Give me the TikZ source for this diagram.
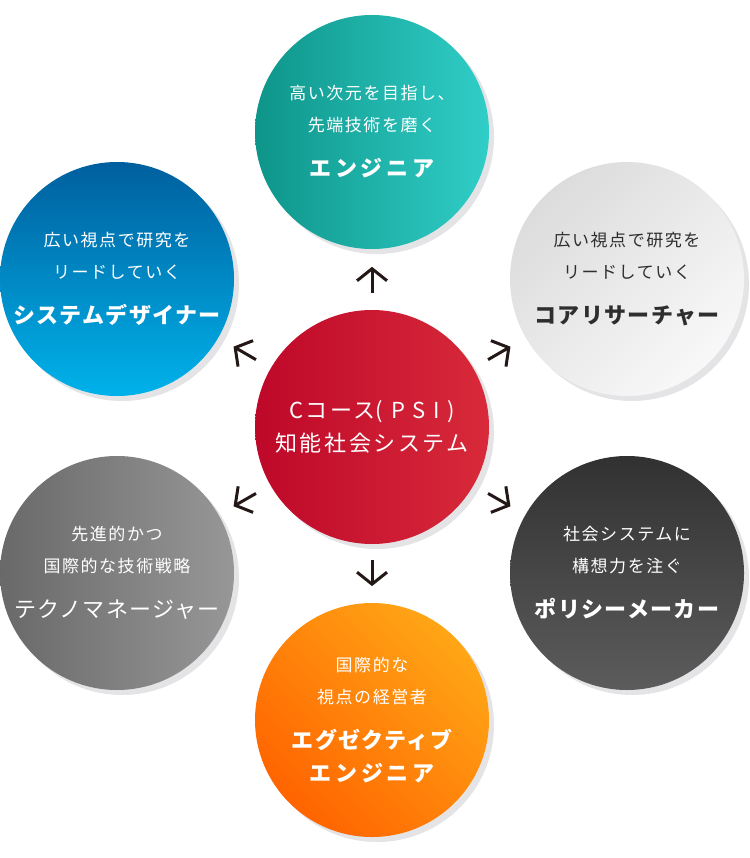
\documentclass[tikz,border=0pt]{standalone}
\usepackage{fontspec}
\setmainfont{Noto Sans CJK JP}
\newfontfamily\leadfont{Noto Sans CJK JP}[LetterSpace=9]
\newfontfamily\rolefont{Noto Sans CJK JP}[LetterSpace=6]
\newfontfamily\corefont{Noto Sans CJK JP}[LetterSpace=12]
\usetikzlibrary{arrows.meta,calc,shadows}

\definecolor{arrowblack}{HTML}{231815}
\definecolor{shadowgray}{HTML}{E4E4E6}
\definecolor{tealdark}{HTML}{0E958A}
\definecolor{teallight}{HTML}{30CEC7}
\definecolor{reddark}{HTML}{BE0829}
\definecolor{redlight}{HTML}{D82A3A}
\definecolor{bluedark}{HTML}{005F9E}
\definecolor{bluelight}{HTML}{00B2EA}
\definecolor{silverdark}{HTML}{DCDCDC}
\definecolor{silverlight}{HTML}{F8F8F8}
\definecolor{greydark}{HTML}{696969}
\definecolor{greylight}{HTML}{979797}
\definecolor{coaldark}{HTML}{313131}
\definecolor{coallight}{HTML}{5C5C5C}
\definecolor{orangedark}{HTML}{FF6400}
\definecolor{orangelight}{HTML}{FFA616}
\definecolor{textdark}{HTML}{2E2E2E}

\newcommand{\leadtext}[1]{{\leadfont\fontsize{17}{32}\selectfont#1}}
\newcommand{\roletext}[2][\bfseries]{{\rolefont#1\fontsize{22}{33}\selectfont#2}}
\newcommand{\coretext}[1]{{\corefont\fontsize{22}{33}\selectfont#1}}
\newcommand{\wide}[1]{{\addfontfeature{LetterSpace=17}#1}}

\begin{document}
\begin{tikzpicture}[x=1pt, y=-1pt,
    ball/.style={circle, minimum size=234pt, inner sep=0pt, align=center,
      text=white, font=\fontsize{17}{32}\selectfont,
      drop shadow={shadow xshift=5pt, shadow yshift=-5pt, fill=shadowgray, opacity=1}},
    arrowline/.style={draw=arrowblack, line width=3pt, -{Straight Barb[length=12pt, width=30pt]}}]
    \useasboundingbox (0,0) rectangle (749,858);

    % Circulo central
    \node[ball, left color=reddark, right color=redlight] (psi) at (372,427)
      {\coretext{Cコース{\addfontfeature{LetterSpace=35}(PSI)}}\\[1pt]\coretext{知能社会システム}};

    % Circulos de alrededor
    \node[ball, left color=tealdark, right color=teallight] (eng) at (372,132)
      {\leadtext{高い次元を目指し、}\\\leadtext{先端技術を磨く}\\[13pt]\roletext{\wide{エンジニア}}};
    \node[ball, top color=bluedark, bottom color=bluelight] (sd) at (117,279)
      {\leadtext{広い視点で研究を}\\\leadtext{リードしていく}\\[13pt]\roletext{システムデザイナー}};
    \node[ball, text=textdark, top color=silverdark, bottom color=silverlight, shading angle=45] (cr) at (627,279)
      {\leadtext{広い視点で研究を}\\\leadtext{リードしていく}\\[13pt]\roletext{コアリサーチャー}};
    \node[ball, left color=greydark, right color=greylight] (tm) at (117,573)
      {\leadtext{先進的かつ}\\\leadtext{国際的な技術戦略}\\[13pt]\roletext[\mdseries]{テクノマネージャー}};
    \node[ball, top color=coaldark, bottom color=coallight] (pm) at (627,573)
      {\leadtext{社会システムに}\\\leadtext{構想力を注ぐ}\\[13pt]\roletext{ポリシーメーカー}};
    \node[ball, top color=orangelight, bottom color=orangedark, shading angle=-45] (ee) at (372,720)
      {\leadtext{国際的な}\\\leadtext{視点の経営者}\\[13pt]\roletext{エグゼクティブ}\\[1pt]\roletext{\wide{エンジニア}}};

    % Flechas
    \foreach \n in {eng,sd,cr,tm,pm,ee}
      \draw[arrowline] ($(psi)!0.455!(\n)$) -- ($(psi)!0.543!(\n)$);
\end{tikzpicture}
\end{document}
